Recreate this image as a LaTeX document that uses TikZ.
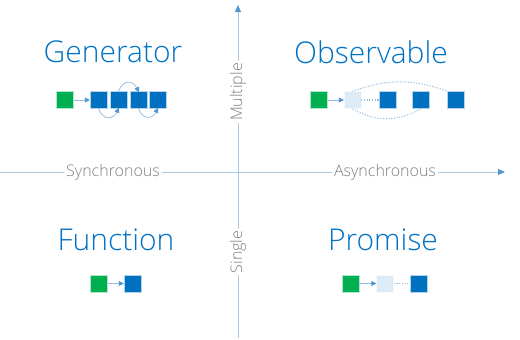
\documentclass[tikz,border=0pt]{standalone}
\usepackage{fontspec}
\setmainfont{Open Sans}[UprightFont=* Light]
\usetikzlibrary{arrows.meta}
\definecolor{tblue}{RGB}{0,114,198}
\definecolor{bblue}{RGB}{0,112,192}
\definecolor{bgreen}{RGB}{0,176,80}
\definecolor{blight}{RGB}{221,235,247}
\definecolor{axisc}{RGB}{170,200,225}
\definecolor{arrc}{RGB}{150,190,225}
\definecolor{tipc}{RGB}{80,150,210}
\definecolor{graytxt}{RGB}{128,128,128}
\tikzset{
  sq/.style={minimum size=17pt,inner sep=0pt,draw=white!70!#1,line width=0.4pt,fill=#1},
  title/.style={text=tblue,font=\fontsize{30}{34}\selectfont},
  axlbl/.style={text=graytxt,fill=white,inner sep=2pt,font=\fontsize{16}{18}\selectfont},
  axisline/.style={draw=axisc,line width=0.8pt,-{Triangle[length=7pt,width=6pt,fill=tipc,color=tipc]}},
  conn/.style={draw=arrc,line width=0.8pt,-{Triangle[length=5pt,width=5pt,fill=tipc,color=tipc]}},
  dots/.style={draw=arrc,line width=1.1pt,dash pattern=on 1.1pt off 1.6pt}
}
\begin{document}
\begin{tikzpicture}[x=1pt,y=-1pt]
\useasboundingbox (0,0) rectangle (520,340);
% axes
\coordinate (vb) at (238,338);
\coordinate (vt) at (238,5);
\coordinate (hl) at (0,172);
\coordinate (hr) at (505,172);
\draw[axisline] (vb) -- (vt);
\draw[axisline] (hl) -- (hr);
\node[axlbl] (sync) at (113,172) {Synchronous};
\node[axlbl] (async) at (385,172) {Asynchronous};
\node[axlbl,rotate=90] (mult) at (238,92) {Multiple};
\node[axlbl,rotate=90] (single) at (238,252) {Single};
% titles
\node[title] (gen) at (113,52) {Generator};
\node[title] (obs) at (371,52) {Observable};
\node[title] (fun) at (116,240) {Function};
\node[title] (pro) at (383,240) {Promise};
% Generator
\node[sq=bgreen] (g0) at (65,100) {};
\node[sq=bblue] (g1) at (98.5,100) {};
\node[sq=bblue] (g2) at (118.5,100) {};
\node[sq=bblue] (g3) at (138.5,100) {};
\node[sq=bblue] (g4) at (157.5,100) {};
\draw[conn] (g0) -- (g1);
\draw[conn,shorten >=-1pt] (g1.south) to[out=-70,in=-115,looseness=1.6] (g2.south);
\draw[conn,shorten >=-1pt] (g2.north) to[out=70,in=115,looseness=1.6] (g3.north);
\draw[conn,shorten >=-1pt] (g3.south) to[out=-70,in=-115,looseness=1.6] (g4.south);
% Observable
\node[sq=bgreen] (o0) at (319,100) {};
\node[sq=blight] (o1) at (352.5,100) {};
\node[sq=bblue] (o2) at (387.5,100) {};
\node[sq=bblue] (o3) at (421,100) {};
\node[sq=bblue] (o4) at (456,100) {};
\draw[conn] (o0) -- (o1);
\draw[dots] (o1.east) -- (o2.west);
\draw[dots] (o1.north) to[out=20,in=160] (o4.north west);
\draw[dots] (o1.south) to[out=-30,in=-150] (o3.south);
% Function
\node[sq=bgreen] (f0) at (99,283.5) {};
\node[sq=bblue] (f1) at (132.5,283.5) {};
\draw[conn] (f0) -- (f1);
% Promise
\node[sq=bgreen] (p0) at (350.5,283.5) {};
\node[sq=blight] (p1) at (385,283.5) {};
\node[sq=bblue] (p2) at (418.5,283.5) {};
\draw[conn] (p0) -- (p1);
\draw[dots] (p1.east) -- (p2.west);
\end{tikzpicture}
\end{document}
